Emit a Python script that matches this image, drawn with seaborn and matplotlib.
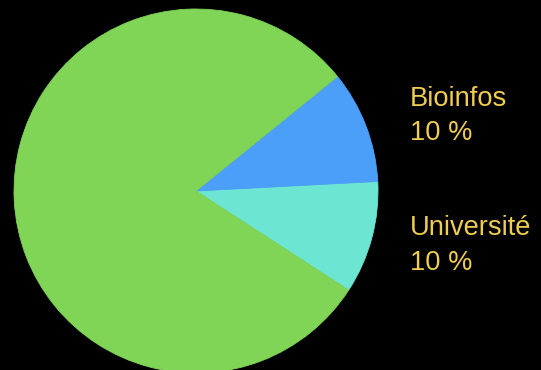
import matplotlib
matplotlib.use("Agg")
import matplotlib.pyplot as plt
import seaborn as sns

# Share of each category (percent), drawn counter-clockwise
categories = ["Université", "Bioinfos", "Autres"]
shares = [10, 10, 80]
slice_colors = ["#6de5d3", "#4c9ff9", "#80d456"]
labelled = ["Bioinfos", "Université"]

sns.set_style("dark", {"axes.facecolor": "black", "figure.facecolor": "black"})
plt.rcParams["font.family"] = ["Liberation Sans", "DejaVu Sans"]

W, H, DPI = 541, 370, 100
fig = plt.figure(figsize=(W / DPI, H / DPI), dpi=DPI, facecolor="black")
ax = fig.add_axes([0, 0, 1, 1])
ax.set_facecolor("black")

# pixel geometry of the pie
r_px, cx, cy = 182.0, 196.0, 191.0
wedges, _ = ax.pie(shares, colors=slice_colors, startangle=-33, counterclock=True,
                   radius=1.0, center=(0, 0), wedgeprops={"linewidth": 0.6})
for w in wedges:
    # edge in the slice's own colour so no dark seams show between slices
    w.set_edgecolor(w.get_facecolor())
ax.set_xlim(-cx / r_px, (W - cx) / r_px)
ax.set_ylim(-(H - cy) / r_px, cy / r_px)
ax.set_aspect("equal")
ax.axis("off")

# label blocks on the right: name on the first line, share below
label_x = (410 - cx) / r_px
first_baseline = {"Bioinfos": 105.5, "Université": 235.0}
line_gap = 35.0
gold = "#f0cd50"
for name in labelled:
    value = shares[categories.index(name)]
    y0 = (cy - first_baseline[name]) / r_px
    y1 = (cy - first_baseline[name] - line_gap) / r_px
    ax.text(label_x, y0, name, color=gold, fontsize=19.6, ha="left", va="baseline")
    ax.text(label_x, y1, f"{value} %", color=gold, fontsize=19.6, ha="left", va="baseline")

fig.savefig("out.png", dpi=DPI, facecolor="black")
